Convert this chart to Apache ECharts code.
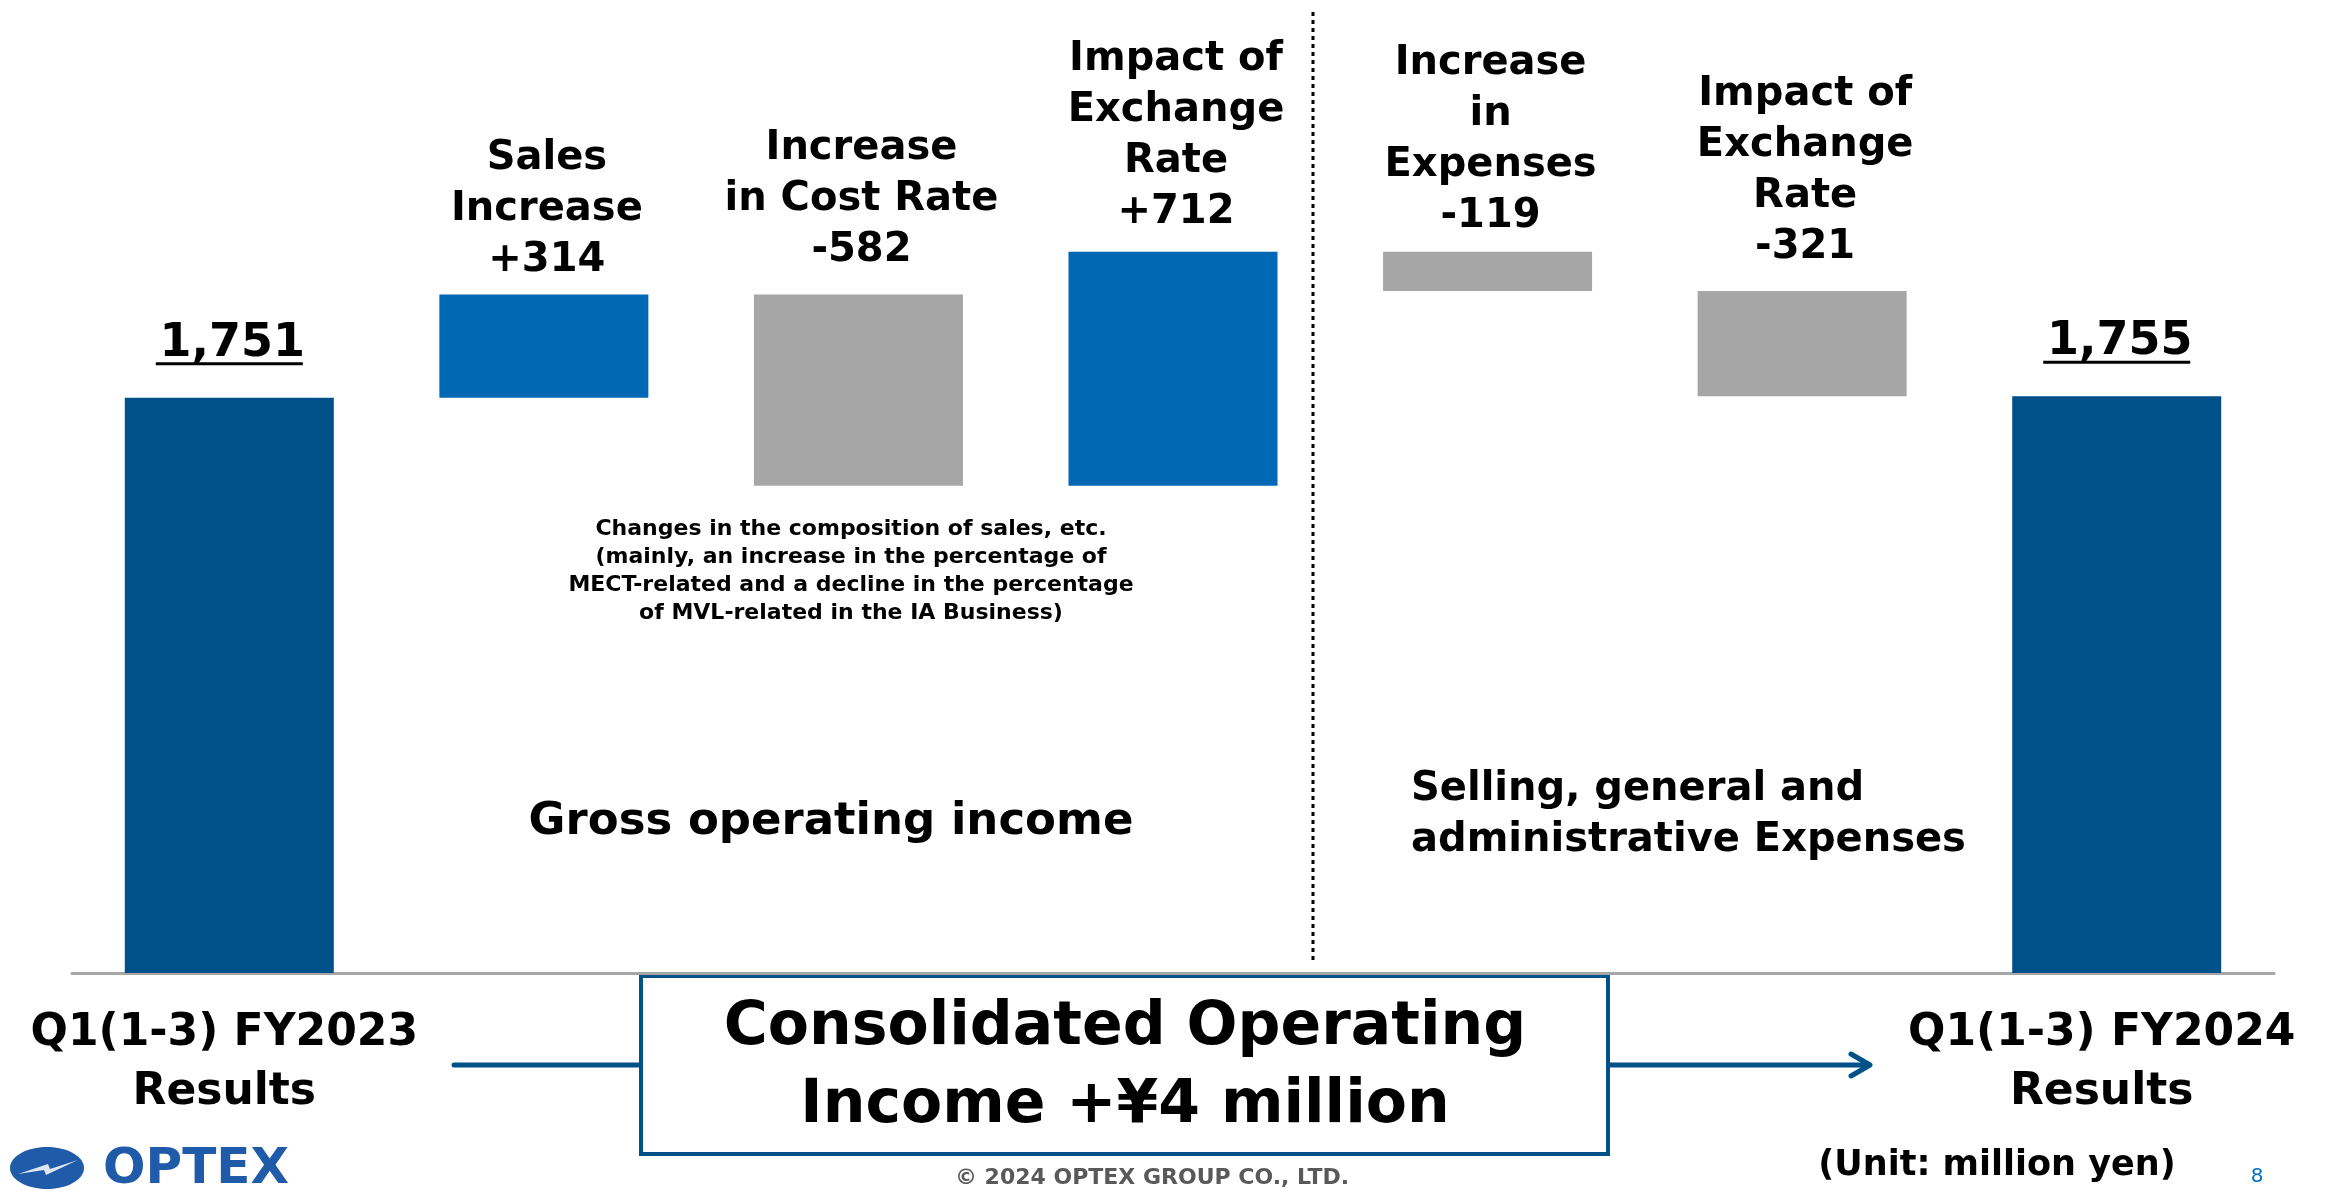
<!DOCTYPE html>
<html>
<head>
<meta charset="utf-8">
<script src="https://cdn.jsdelivr.net/npm/echarts@6/dist/echarts.min.js"></script>
<style>
  html, body { margin: 0; padding: 0; background: #fff; }
  #main { width: 2336px; height: 1192px; }
</style>
</head>
<body>
<div id="main"></div>
<script>
// data
var categories = ['Q1(1-3) FY2023\nResults', 'Sales Increase', 'Increase in Cost Rate', 'Impact of Exchange Rate',
  'Increase in Expenses', 'Impact of Exchange Rate', 'Q1(1-3) FY2024\nResults'];
var startTotal = 1751;
var deltas = [314, -582, 712, -119, -321];
var endTotal = 1755;
var stepNames = [
  ['Sales', 'Increase'],
  ['Increase', 'in Cost Rate'],
  ['Impact of', 'Exchange', 'Rate'],
  ['Increase', 'in', 'Expenses'],
  ['Impact of', 'Exchange', 'Rate']
];
var noteLines = [
  'Changes in the composition of sales, etc.',
  '(mainly, an increase in the percentage of',
  'MECT-related and a decline in the percentage',
  'of MVL-related in the IA Business)'
];

var DARK = '#00508A';
var BLUE = '#0068B5';
var GRAY = '#A6A6A6';
var FONT = '"DejaVu Sans", sans-serif';
// label gap above each bar (layout only)
var labelGap = [32, 8, 18, 14, 10, 18, 32];

// build waterfall base / visible parts
var bases = [0];
var shown = [startTotal];
var level = startTotal;
deltas.forEach(function (d) {
  var next = level + d;
  bases.push(Math.min(level, next));
  shown.push(Math.abs(d));
  level = next;
});
bases.push(0);
shown.push(endTotal);

function barColor(i) {
  if (i === 0 || i === categories.length - 1) return DARK;
  return deltas[i - 1] > 0 ? BLUE : GRAY;
}

var chart = echarts.init(document.getElementById('main'));
var option = {
  animation: false,
  textStyle: { fontFamily: FONT },
  grid: { left: 72, right: 62, top: 53, bottom: 219 },
  xAxis: {
    type: 'category',
    data: categories,
    axisTick: { show: false },
    axisLine: { lineStyle: { color: GRAY, width: 3 } },
    axisLabel: {
      interval: 0,
      margin: 31,
      formatter: function (v, i) {
        if (i !== 0 && i !== categories.length - 1) return '';
        var key = i === 0 ? 'a' : 'b';
        return v.split('\n').map(function (s) { return '{' + key + '|' + s + '}'; }).join('\n');
      },
      rich: {
        a: { fontSize: 44, fontWeight: 'bold', color: '#000', lineHeight: 59, fontFamily: FONT, padding: [0, 10, 0, 0] },
        b: { fontSize: 44, fontWeight: 'bold', color: '#000', lineHeight: 59, fontFamily: FONT, padding: [0, 30, 0, 0] }
      }
    }
  },
  yAxis: { type: 'value', min: 0, max: 2800, show: false },
  series: [
    {
      type: 'bar', stack: 'w', barWidth: 209, silent: true,
      itemStyle: { color: 'transparent' },
      data: bases
    },
    {
      type: 'bar', stack: 'w', barWidth: 209,
      data: shown.map(function (v, i) {
        return { value: v, itemStyle: { color: barColor(i) }, label: { distance: labelGap[i] } };
      }),
      label: {
        show: true,
        position: 'top',
        formatter: function (p) {
          var i = p.dataIndex;
          if (i === 0 || i === categories.length - 1) {
            return '{v|' + p.value.toLocaleString('en-US') + '}\n{u| }';
          }
          var d = deltas[i - 1];
          var lines = stepNames[i - 1].concat([(d > 0 ? '+' : '-') + Math.abs(d)]);
          return lines.map(function (s) { return '{t|' + s + '}'; }).join('\n');
        },
        rich: {
          t: { fontSize: 40, fontWeight: 'bold', color: '#000', lineHeight: 51, fontFamily: FONT, padding: [0, 0, 0, 6] },
          v: { fontSize: 46, fontWeight: 'bold', color: '#000', lineHeight: 36, fontFamily: FONT, padding: [0, 0, 0, 6] },
          u: { width: 147, height: 3, lineHeight: 4, backgroundColor: '#000' }
        }
      }
    }
  ],
  graphic: [
    // section divider
    { type: 'line', shape: { x1: 1313, y1: 12, x2: 1313, y2: 964 },
      style: { stroke: '#000', lineWidth: 3, lineDash: [4, 4] } },
    // notes
    { type: 'text', x: 851, y: 571,
      style: { text: noteLines.join('\n'), font: 'bold 22px ' + FONT, fill: '#000',
        align: 'center', verticalAlign: 'middle', lineHeight: 28 } },
    { type: 'text', x: 831, y: 822,
      style: { text: 'Gross operating income', font: 'bold 45px ' + FONT, fill: '#000',
        align: 'center', verticalAlign: 'middle' } },
    { type: 'text', x: 1411, y: 815,
      style: { text: 'Selling, general and\nadministrative Expenses', font: 'bold 40px ' + FONT, fill: '#000',
        align: 'left', verticalAlign: 'middle', lineHeight: 51 } },
    // arrows and box
    { type: 'line', shape: { x1: 454, y1: 1065, x2: 641, y2: 1065 },
      style: { stroke: DARK, lineWidth: 5, lineCap: 'round' } },
    { type: 'line', shape: { x1: 1608, y1: 1065, x2: 1869, y2: 1065 },
      style: { stroke: DARK, lineWidth: 5 } },
    { type: 'polyline', shape: { points: [[1851, 1054], [1870, 1065], [1851, 1076]] },
      style: { stroke: DARK, lineWidth: 5, fill: null, lineCap: 'round', lineJoin: 'round' } },
    { type: 'rect', shape: { x: 641, y: 976, width: 967, height: 178 },
      style: { fill: '#fff', stroke: DARK, lineWidth: 4 } },
    { type: 'text', x: 1125, y: 1067,
      style: { text: 'Consolidated Operating\nIncome +\u00a54 million', font: 'bold 60px ' + FONT, fill: '#000',
        align: 'center', verticalAlign: 'middle', lineHeight: 78 } },
    // footer
    { type: 'text', x: 1997, y: 1166,
      style: { text: '(Unit: million yen)', font: 'bold 35px ' + FONT, fill: '#000',
        align: 'center', verticalAlign: 'middle' } },
    { type: 'text', x: 2257, y: 1177,
      style: { text: '8', font: '20px ' + FONT, fill: '#0070C0', align: 'center', verticalAlign: 'middle' } },
    { type: 'text', x: 1152, y: 1178,
      style: { text: '\u00a9 2024 OPTEX GROUP CO., LTD.', font: 'bold 22px ' + FONT, fill: '#595959',
        align: 'center', verticalAlign: 'middle' } },
    // logo
    { type: 'ellipse', shape: { cx: 47, cy: 1168, rx: 37, ry: 21 }, style: { fill: '#1F5BA8' } },
    { type: 'polygon', shape: { points: [[18, 1174], [48, 1164], [50, 1169], [78, 1160], [46, 1175], [44, 1170]] },
      style: { fill: '#fff', opacity: 0.85 } },
    { type: 'text', x: 103, y: 1170,
      style: { text: 'OPTEX', font: 'bold 50px ' + FONT, fill: '#1F5BA8', align: 'left', verticalAlign: 'middle' } }
  ]
};
chart.setOption(option);
</script>
</body>
</html>
